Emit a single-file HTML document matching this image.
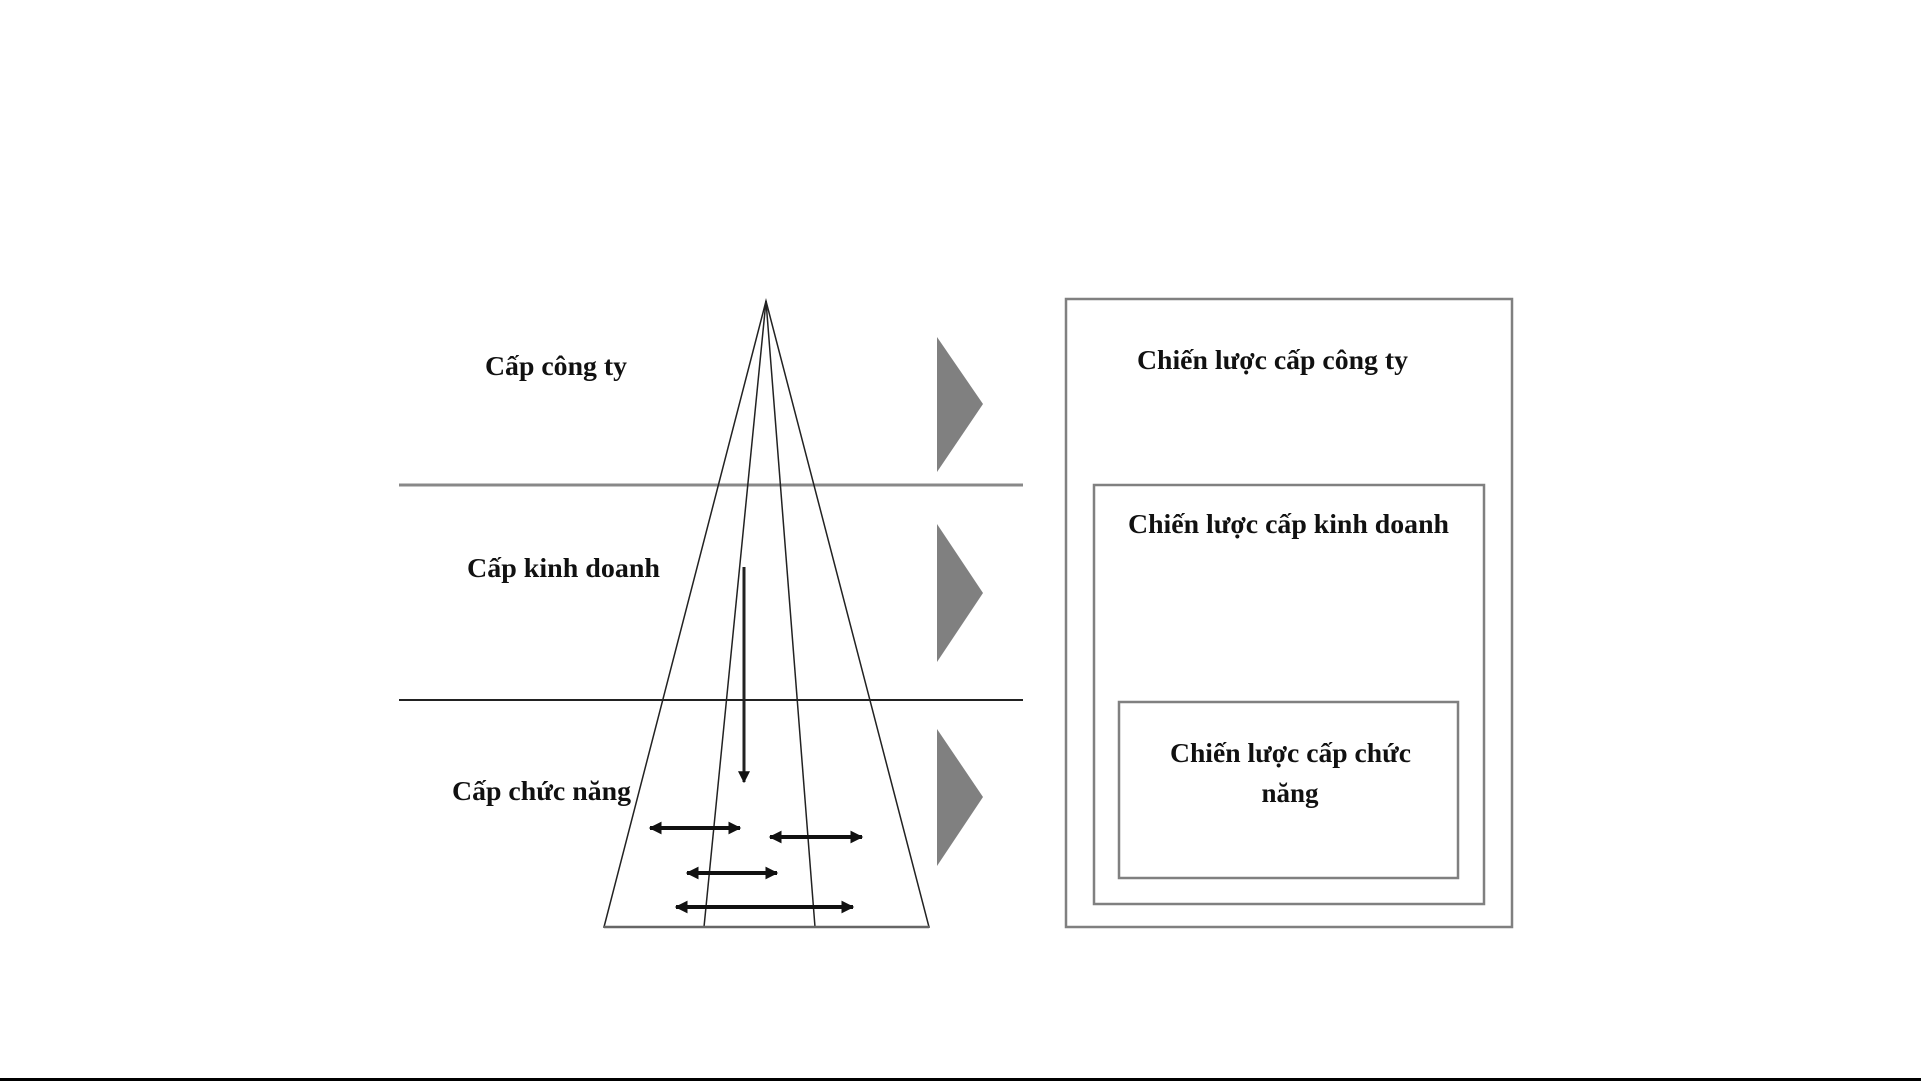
<!DOCTYPE html>
<html><head><meta charset="utf-8"><style>
html,body{margin:0;padding:0;background:#fff;width:1921px;height:1081px;overflow:hidden}
text{font-family:"Liberation Serif",serif;font-weight:bold;fill:#111}
</style></head><body>
<svg width="1921" height="1081" viewBox="0 0 1921 1081" xmlns="http://www.w3.org/2000/svg">
<defs>
<marker id="ah" viewBox="0 0 10 10" refX="9" refY="5" markerWidth="4" markerHeight="4" orient="auto-start-reverse"><path d="M0,0 L10,5 L0,10 z" fill="#111"/></marker>
<marker id="ah2" viewBox="0 0 10 10" refX="9" refY="5" markerWidth="3.2" markerHeight="3.2" orient="auto-start-reverse"><path d="M0,0 L10,5 L0,10 z" fill="#111"/></marker>
</defs>
<line x1="399" y1="485" x2="1023" y2="485" stroke="#888" stroke-width="3"/>
<line x1="399" y1="700" x2="1023" y2="700" stroke="#222" stroke-width="2"/>
<g stroke="#222" stroke-width="1.5" fill="none">
<polygon points="766,301 604,927 929,927"/>
<line x1="766" y1="301" x2="704" y2="927"/>
<line x1="766" y1="301" x2="815" y2="927"/>
</g>
<line x1="604" y1="927" x2="929" y2="927" stroke="#666" stroke-width="2.5"/>
<line x1="744" y1="567" x2="744" y2="782" stroke="#222" stroke-width="3" marker-end="url(#ah)"/>
<g stroke="#111" stroke-width="4" marker-start="url(#ah2)" marker-end="url(#ah2)">
<line x1="650" y1="828" x2="740" y2="828"/>
<line x1="770" y1="837" x2="862" y2="837"/>
<line x1="687" y1="873" x2="777" y2="873"/>
<line x1="676" y1="907" x2="853" y2="907"/>
</g>
<g fill="#808080">
<polygon points="937,337 983,404 937,472"/>
<polygon points="937,524 983,593 937,662"/>
<polygon points="937,729 983,797 937,866"/>
</g>
<g fill="none" stroke="#808080" stroke-width="2.5">
<rect x="1066" y="299" width="446" height="628"/>
<rect x="1094" y="485" width="390" height="419"/>
<rect x="1119" y="702" width="339" height="176"/>
</g>
<g font-size="27">
<text x="485" y="375" textLength="142" lengthAdjust="spacingAndGlyphs">Cấp công ty</text>
<text x="467" y="577" textLength="193" lengthAdjust="spacingAndGlyphs">Cấp kinh doanh</text>
<text x="452" y="800" textLength="179" lengthAdjust="spacingAndGlyphs">Cấp chức năng</text>
<text x="1137" y="369" textLength="271" lengthAdjust="spacingAndGlyphs">Chiến lược cấp công ty</text>
<text x="1128" y="533" textLength="321" lengthAdjust="spacingAndGlyphs">Chiến lược cấp kinh doanh</text>
<text x="1170" y="762" textLength="241" lengthAdjust="spacingAndGlyphs">Chiến lược cấp chức</text>
<text x="1290" y="802" text-anchor="middle">năng</text>
</g>
<rect x="0" y="1078" width="1921" height="3" fill="#000"/>
</svg>
</body></html>
